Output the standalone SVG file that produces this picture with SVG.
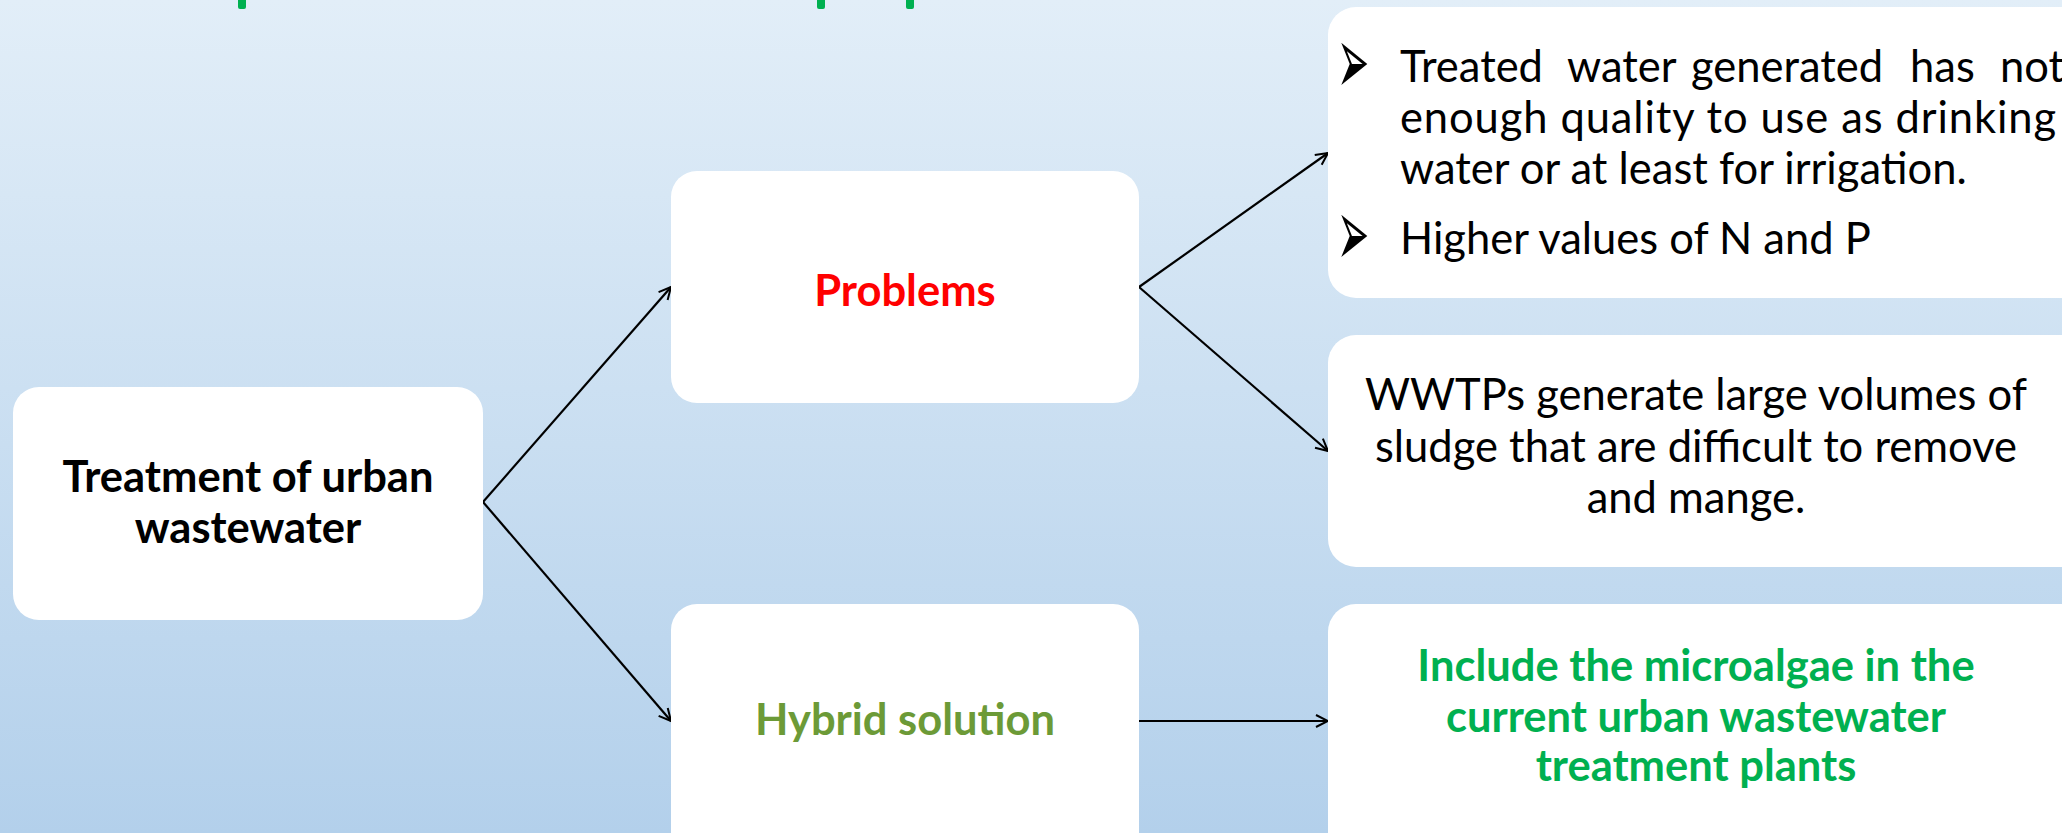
<svg xmlns="http://www.w3.org/2000/svg" width="2062" height="833" viewBox="0 0 2062 833">
<defs>
<linearGradient id="bg" x1="0" y1="0" x2="0" y2="1">
<stop offset="0" stop-color="#E2EEF8"/>
<stop offset="1" stop-color="#B3D0EB"/>
</linearGradient>
<marker id="ah" markerUnits="userSpaceOnUse" markerWidth="16" markerHeight="16" viewBox="0 0 16 16" refX="15" refY="8" orient="auto">
<path d="M3,2 L15,8 L3,14" fill="none" stroke="#000" stroke-width="2"/>
</marker>
<style>
.box{fill:#fff}
.t{font-family:Lato,"Open Sans",sans-serif;font-size:43.5px}
.b{font-weight:bold}
.c{text-anchor:middle}
.bul{font-family:"DejaVu Sans",sans-serif;font-size:64px}
.con{stroke:#000;stroke-width:2.2;fill:none;marker-end:url(#ah)}
</style>
</defs>
<rect width="2062" height="833" fill="url(#bg)"/>
<g id="title-fragments" fill="#00B050">
<rect x="238" y="-3" width="8" height="12" rx="2"/>
<rect x="817" y="-3" width="8" height="12" rx="2"/>
<rect x="906" y="-3" width="8" height="12" rx="2"/>
</g>
<g id="connectors">
<path class="con" d="M483,502 L671,287"/>
<path class="con" d="M483,502 L671,721"/>
<path class="con" d="M1139,287 L1328,153"/>
<path class="con" d="M1139,287 L1328,451"/>
<path class="con" d="M1139,721 L1328,721"/>
</g>
<g id="node-treatment">
<rect class="box" x="13" y="387" width="470" height="233" rx="26"/>
<text class="t b c" x="248" y="492">Treatment of urban</text>
<text class="t b c" x="248" y="543">wastewater</text>
</g>
<g id="node-problems">
<rect class="box" x="671" y="171" width="468" height="232" rx="26"/>
<text class="t b c" x="905" y="306" fill="#FF0000">Problems</text>
</g>
<g id="node-hybrid">
<rect class="box" x="671" y="604" width="468" height="260" rx="26"/>
<text class="t b c" x="905" y="735" fill="#6C9A37">Hybrid solution</text>
</g>
<g id="node-quality">
<rect class="box" x="1328" y="7" width="760" height="291" rx="28"/>
<text class="bul" transform="translate(1337,94) scale(0.6,1.5)">➢</text>
<text class="t" y="82"><tspan x="1400">Treated</tspan><tspan x="1567">water</tspan><tspan x="1691">generated</tspan><tspan x="1910">has</tspan><tspan x="2000">not</tspan></text>
<text class="t" x="1400" y="133" textLength="656" lengthAdjust="spacing">enough quality to use as drinking</text>
<text class="t" x="1400" y="184">water or at least for irrigation.</text>
<text class="bul" transform="translate(1337,266) scale(0.6,1.5)">➢</text>
<text class="t" x="1400" y="254">Higher values of N and P</text>
</g>
<g id="node-sludge">
<rect class="box" x="1328" y="335" width="760" height="232" rx="28"/>
<text class="t c" x="1696" y="410">WWTPs generate large volumes of</text>
<text class="t c" x="1696" y="462">sludge that are difficult to remove</text>
<text class="t c" x="1696" y="513">and mange.</text>
</g>
<g id="node-microalgae">
<rect class="box" x="1328" y="604" width="760" height="260" rx="28"/>
<text class="t b c" x="1696" y="681" fill="#00B050">Include the microalgae in the</text>
<text class="t b c" x="1696" y="732" fill="#00B050">current urban wastewater</text>
<text class="t b c" x="1696" y="781" fill="#00B050">treatment plants</text>
</g>
</svg>
